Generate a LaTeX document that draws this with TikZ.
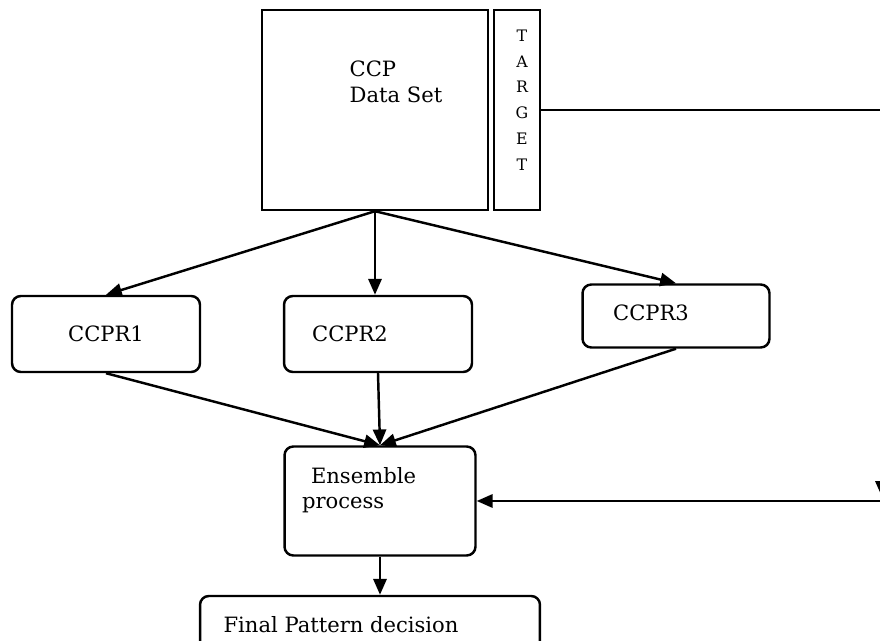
\documentclass[tikz,border=0pt]{standalone}
\usepackage{fontspec}
\setmainfont{DejaVu Serif}
\usetikzlibrary{arrows.meta}

\begin{document}
\begin{tikzpicture}[
	x=0.02cm, y=-0.02cm,
	line width=1.4pt,
	font=\fontsize{12}{14.5}\selectfont,
	box/.style={rectangle, draw, inner sep=0pt},
	rbox/.style={rectangle, rounded corners=5pt, draw, inner sep=0pt},
	arr/.style={-{Triangle[length=9pt,width=7.5pt]}}
]
\useasboundingbox (0,0) rectangle (880,641);
\clip (0,0) rectangle (880,641);
% data set and target column
\node[box, minimum width=4.52cm, minimum height=4cm,
	label={[xshift=0.42cm, yshift=0.56cm, align=left]center:CCP\\Data Set}] (ccp) at (375,110) {};
\node[box, minimum width=0.92cm, minimum height=4cm,
	label={[xshift=0.1cm, yshift=0.2cm, align=center, font=\fontsize{9}{14.7}\selectfont]center:T\\A\\R\\G\\E\\T}] (target) at (517,110) {};
% three CCPR models
\node[rbox, minimum width=3.76cm, minimum height=1.52cm, label={center:CCPR1}] (ccpr1) at (106,334) {};
\node[rbox, minimum width=3.76cm, minimum height=1.52cm, label={[xshift=-0.56cm]center:CCPR2}] (ccpr2) at (378,334) {};
\node[rbox, minimum width=3.74cm, minimum height=1.26cm, label={[xshift=-0.5cm, yshift=0.06cm]center:CCPR3}] (ccpr3) at (676,316) {};
% ensemble and decision
\node[rbox, minimum width=3.82cm, minimum height=2.18cm,
	label={[xshift=-0.42cm, yshift=0.22cm, align=left]center:\hspace*{0.18cm}Ensemble\\process}] (ensemble) at (380,501) {};
\node[rbox, minimum width=6.8cm, minimum height=1.4cm,
	label={[xshift=-0.58cm, yshift=0.12cm]center:Final Pattern decision}] (final) at (370,631) {};
\coordinate (tcorner) at (882,497);
\coordinate (ein) at (882,501);

\draw[arr] (ccp.south) -- (ccpr1.north);
\draw[arr] (ccp.south) -- (ccp.south |- ccpr2.north);
\draw[arr] (ccp.south) -- (ccpr3.north);
\draw[arr] (ccpr1.south) -- (ensemble.north);
\draw[arr] (ccpr2.south) -- (ensemble.north);
\draw[arr] (ccpr3.south) -- (ensemble.north);
\draw[arr] (ensemble.south) -- (ensemble.south |- final.north);
\draw[arr] (target.east) -| (tcorner);
\draw[arr] (ein) -- (ein -| ensemble.east);
\end{tikzpicture}
\end{document}
